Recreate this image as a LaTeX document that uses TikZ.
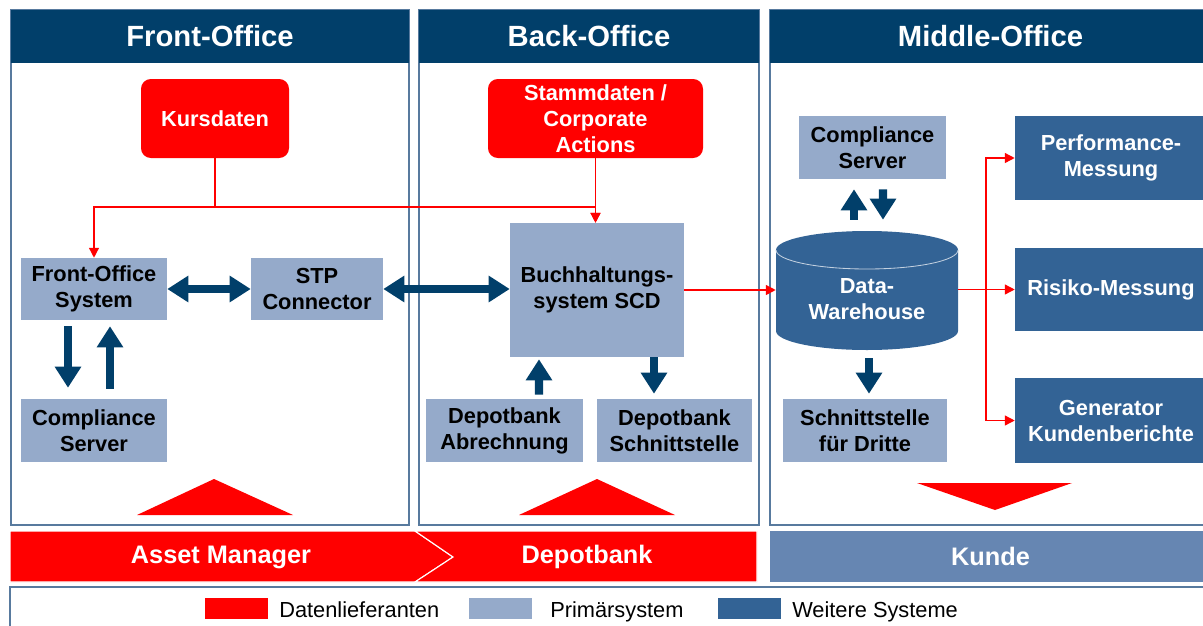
\documentclass[tikz,border=0pt]{standalone}
\usepackage{fontspec}
\setmainfont{Liberation Sans}
\usetikzlibrary{arrows.meta,calc}

\definecolor{hdrblue}{RGB}{1,63,106}
\definecolor{primblue}{RGB}{149,170,202}
\definecolor{weitblue}{RGB}{51,99,149}
\definecolor{kundblue}{RGB}{102,134,178}
\definecolor{edgeblue}{RGB}{88,122,158}

\tikzset{
    bigtip/.tip={Triangle[width=18pt,length=15pt]},
    smalltip/.tip={Triangle[width=7pt,length=7pt]},
    panel/.style={draw=edgeblue, line width=0.8pt},
    boxfont/.style={font=\fontsize{15.5}{18.5}\selectfont\bfseries},
    headbox/.style={fill=hdrblue, text=white, font=\fontsize{20.8}{24}\selectfont\bfseries},
    primbox/.style={boxfont, fill=primblue, text=black, align=center},
    weitbox/.style={boxfont, fill=weitblue, text=white, align=center},
    redbox/.style={boxfont, fill=red, text=white, align=center, rounded corners=7pt, inner sep=1pt},
    barrow/.style={draw=hdrblue, line width=6pt, -bigtip},
    rarrow/.style={draw=red, line width=1pt, -smalltip},
    bartext/.style={text=white, font=\fontsize{18}{22}\selectfont\bfseries},
    legtext/.style={anchor=base west, inner sep=0pt, font=\fontsize{15.5}{18.5}\selectfont}
}

\begin{document}
\begin{tikzpicture}[x=0.025cm, y=-0.025cm]
        \def \px {0.025cm}

        \useasboundingbox (0,0) rectangle (1203,625);
        \clip (0,0) rectangle (1203,625);
        \fill[white] (0,0) rectangle (1203,625);

        \draw[panel] (11,10) rectangle (409,525);
        \draw[panel] (419,10) rectangle (759,525);
        \draw[panel] (770,10) rectangle (1215,525);

        \node[headbox, minimum width=398*\px, minimum height=53*\px] (fohead) at (210,36.5) {Front-Office};
        \node[headbox, minimum width=340*\px, minimum height=53*\px] (bohead) at (589,36.5) {Back-Office};
        \node[headbox, minimum width=441*\px, minimum height=53*\px] (mohead) at (990.5,36.5) {Middle-Office};

        \node[redbox, minimum width=148*\px, minimum height=79*\px] (kurs) at (215,118.5) {Kursdaten};
        \node[redbox, minimum width=215*\px, minimum height=79*\px] (stamm) at (595.5,118.5) {Stammdaten /\\Corporate\\Actions};

        \node[primbox, minimum width=146*\px, minimum height=62*\px] (fos) at (94,289) {Front-Office\\System};
        \node[primbox, minimum width=132*\px, minimum height=62*\px] (stp) at (317,289) {STP\\Connector};
        \node[primbox, minimum width=174*\px, minimum height=134*\px] (buch) at (597,290) {Buchhaltungs-\\system SCD};
        \node[primbox, minimum width=146*\px, minimum height=63*\px] (cs1) at (94,430.5) {Compliance\\Server};
        \node[primbox, minimum width=157*\px, minimum height=63*\px] (abr) at (504.5,430.5) {Depotbank\\Abrechnung};
        \node[primbox, minimum width=155*\px, minimum height=63*\px] (dsch) at (674.5,430.5) {Depotbank\\Schnittstelle};
        \node[primbox, minimum width=147*\px, minimum height=63*\px] (cs2) at (872.5,147.5) {Compliance\\Server};
        \node[primbox, minimum width=164*\px, minimum height=63*\px] (sfd) at (865,430.5) {Schnittstelle\\f\"ur Dritte};

        \node[weitbox, minimum width=192*\px, minimum height=84*\px] (perf) at (1111,158) {Performance-\\Messung};
        \node[weitbox, minimum width=192*\px, minimum height=83*\px] (risk) at (1111,289.5) {Risiko-Messung};
        \node[weitbox, minimum width=192*\px, minimum height=85*\px] (gen) at (1111,420.5) {Generator\\Kundenberichte};

        \fill[weitblue] (776,250) -- (776,331) arc[start angle=180, end angle=360, x radius=91*\px, y radius=19*\px]
            -- (958,250) arc[start angle=0, end angle=180, x radius=91*\px, y radius=19*\px] -- cycle;
        \draw[white!70!weitblue, line width=0.6pt] (776,250) arc[start angle=180, end angle=360, x radius=91*\px, y radius=19*\px];
        \node[boxfont, text=white, align=center, minimum width=182*\px, minimum height=98*\px] (dw) at (867,299) {Data-\\Warehouse};

        \draw[barrow, bigtip-bigtip] (fos) -- (stp);
        \draw[barrow, bigtip-bigtip] (stp.east) -- (stp.east -| buch.west);
        \draw[barrow] ($(fos.south)+(-26,6)$) -- ($(cs1.north)+(-26,-11)$);
        \draw[barrow] ($(cs1.north)+(16,-10)$) -- ($(fos.south)+(16,6)$);
        \draw[barrow] ($(abr.north)+(34.5,-4)$) -- ($(buch.south)+(-58,2)$);
        \draw[barrow] ($(buch.south)+(57,0)$) -- ($(dsch.north)+(-20.5,-5)$);
        \draw[barrow] ($(dw.north)+(-13,-30)$) -- ($(cs2.south)+(-18.5,10)$);
        \draw[barrow] ($(cs2.south)+(10.5,10)$) -- ($(dw.north)+(16,-30)$);
        \draw[barrow] ($(dw.south)+(2,10)$) -- ($(sfd.north)+(4,-5)$);

        \coordinate (kj) at (215,207);
        \coordinate (dv) at (986,289.5);
        \draw[red, line width=1pt] (kurs.south) -- (kj);
        \draw[rarrow] (kj) -| (fos.north);
        \draw[rarrow] (kj) -| (stamm.south |- buch.north);
        \draw[rarrow] (stamm.south) -- (stamm.south |- buch.north);
        \draw[rarrow] (buch.east) -- (buch.east -| dw.west);
        \draw[rarrow] (dw.east |- risk.west) -- (risk.west);
        \draw[rarrow] (dv) |- (perf.west);
        \draw[rarrow] (dv) |- (gen.west);

        \fill[red] (137,515) -- (214,479) -- (293,515) -- cycle;
        \fill[red] (519,515) -- (597,479) -- (675,515) -- cycle;
        \fill[red] (917,483) -- (1072,483) -- (995,510) -- cycle;

        \draw[fill=red, draw=white, line width=0.8pt] (10,531) -- (415,531) -- (453,557) -- (415,582) -- (10,582) -- cycle;
        \draw[fill=red, draw=white, line width=0.8pt] (415,531) -- (757,531) -- (757,582) -- (415,582) -- (453,557) -- cycle;
        \node[bartext] (am) at (221,557) {Asset Manager};
        \node[bartext] (db) at (587,557) {Depotbank};
        \node[bartext, fill=kundblue, minimum width=441*\px, minimum height=51*\px] (kunde) at (990.5,556.5) {Kunde};

        \draw[panel] (10,587) rectangle (1215,640);
        \node[fill=red, minimum width=63*\px, minimum height=21*\px] (lgdat) at (236.5,608.5) {};
        \node[fill=primblue, minimum width=63*\px, minimum height=21*\px] (lgprim) at (500.5,608.5) {};
        \node[fill=weitblue, minimum width=63*\px, minimum height=21*\px] (lgweit) at (749.5,608.5) {};
        \node[legtext] (txdat) at (279,617) {Datenlieferanten};
        \node[legtext] (txprim) at (550,617) {Prim\"arsystem};
        \node[legtext] (txweit) at (792,617) {Weitere Systeme};
\end{tikzpicture}
\end{document}
